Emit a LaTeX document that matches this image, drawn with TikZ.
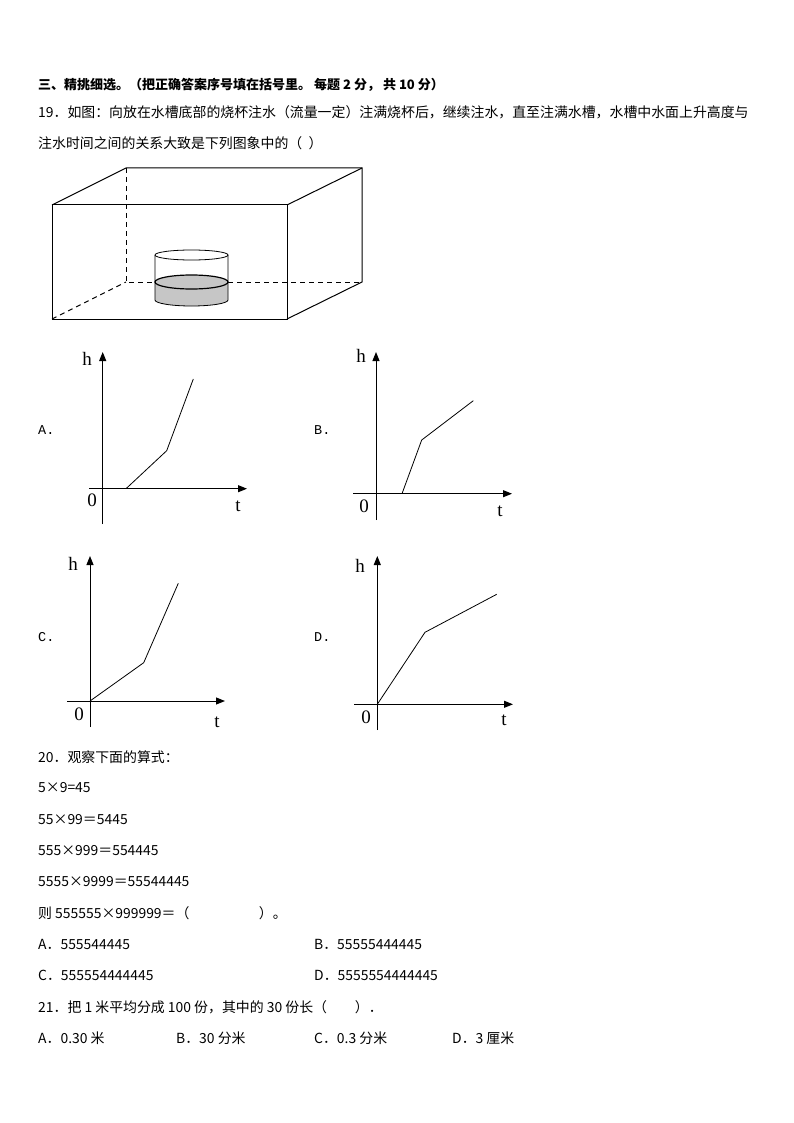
\documentclass[tikz,border=0pt]{standalone}
\usepackage{fontspec}
\setmainfont{Noto Sans CJK SC}
\newfontfamily\lab{Liberation Serif}
\newfontfamily\mono{Liberation Mono}
\usetikzlibrary{arrows.meta}
\begin{document}
\begin{tikzpicture}[x=1pt,y=-1pt,
  txt/.style={anchor=west,inner sep=0pt,font=\fontsize{13.9}{15}\selectfont},
  ax/.style={line width=1pt,-{Triangle[length=9pt,width=7pt]}},
  crv/.style={line width=0.8pt},
  dsh/.style={line width=0.9pt,dash pattern=on 5pt off 4pt},
  axl/.style={inner sep=0pt,font=\lab\fontsize{19}{20}\selectfont},
  opt/.style={anchor=west,inner sep=0pt,font=\mono\fontsize{13.5}{15}\selectfont}]
\useasboundingbox (0,0) rectangle (794,1123);
\node[txt,font=\bfseries\fontsize{13}{15}\selectfont] (t0) at (38,85) {三、精挑细选。（把正确答案序号填在括号里。 每题 2 分， 共 10 分）};
\node[txt] (t1) at (38,112) {19．如图：向放在水槽底部的烧杯注水（流量一定）注满烧杯后，继续注水，直至注满水槽，水槽中水面上升高度与};
\node[txt] (t2) at (38,143) {注水时间之间的关系大致是下列图象中的（\ \ ）};
% box
\draw[line width=1pt] (52,205) rectangle (287,319);
\draw[line width=1pt] (52,205) -- (126,168) -- (362,168) -- (362,282) -- (287,319);
\draw[line width=1pt] (287,205) -- (362,168);
\draw[dsh] (126,168) -- (126,282) -- (362,282);
\draw[dsh] (52,319) -- (126,282);
% beaker
\fill[gray!45] (155,282) -- (155,300) arc[start angle=180,end angle=360,x radius=36.5,y radius=-6] -- (228,282) arc[start angle=0,end angle=180,x radius=36.5,y radius=-7];
\draw[line width=0.8pt] (191.5,255) ellipse[x radius=36.5,y radius=5];
\draw[line width=1.2pt] (191.5,282) ellipse[x radius=36.5,y radius=7];
\draw[line width=0.8pt] (155,255) -- (155,300) arc[start angle=180,end angle=360,x radius=36.5,y radius=-6] -- (228,255);
% A
\node[opt] (la) at (38,430) {A.};
\draw[ax] (102.7,524) -- (102.7,352);
\draw[ax] (89,488.7) -- (247,488.7);
\draw[crv] (126,488.7) -- (166.7,450.7) -- (193.3,379);
\node[axl] (ha) at (87,359) {h}; \node[axl] (oa) at (92,500) {0}; \node[axl] (ta) at (238,506) {t};
% B
\node[opt] (lb) at (314,430) {B.};
\draw[ax] (376,520) -- (376,352);
\draw[ax] (353,493.7) -- (512,493.7);
\draw[crv] (402,493.7) -- (421.7,440) -- (473.3,400.7);
\node[axl] (hb) at (361,356) {h}; \node[axl] (ob) at (364,506) {0}; \node[axl] (tb) at (500,511) {t};
% C
\node[opt] (lc) at (38,637) {C.};
\draw[ax] (90,727) -- (90,556);
\draw[ax] (67,701) -- (225,701);
\draw[crv] (90,701) -- (143.7,662.7) -- (178.3,583.3);
\node[axl] (hc) at (73,564) {h}; \node[axl] (oc) at (79,714) {0}; \node[axl] (tc) at (217,722) {t};
% D
\node[opt] (ld) at (314,637) {D.};
\draw[ax] (377.3,730) -- (377.3,556);
\draw[ax] (354,704.3) -- (513,704.3);
\draw[crv] (377.3,704.3) -- (425,632.3) -- (496.7,594.3);
\node[axl] (hd) at (360,566) {h}; \node[axl] (od) at (366,717) {0}; \node[axl] (td) at (504,720) {t};
% Q20
\node[txt] (q20) at (38,757) {20．观察下面的算式：};
\node[txt] (e1) at (38,788) {5×9=45};
\node[txt] (e2) at (38,820) {55×99＝5445};
\node[txt] (e3) at (38,851) {555×999＝554445};
\node[txt] (e4) at (38,882) {5555×9999＝55544445};
\node[txt] (e5) at (38,913) {则 555555×999999＝（\hspace{5em}）。};
\node[txt] (a20) at (38,944) {A．555544445};
\node[txt] (b20) at (314,944) {B．55555444445};
\node[txt] (c20) at (38,975) {C．555554444445};
\node[txt] (d20) at (314,975) {D．5555554444445};
\node[txt] (q21) at (38,1007) {21．把 1 米平均分成 100 份，其中的 30 份长（\hspace{2em}）．};
\node[txt] (a21) at (38,1038) {A．0.30 米};
\node[txt] (b21) at (176,1038) {B．30 分米};
\node[txt] (c21) at (314,1038) {C．0.3 分米};
\node[txt] (d21) at (452,1038) {D．3 厘米};
\end{tikzpicture}
\end{document}
